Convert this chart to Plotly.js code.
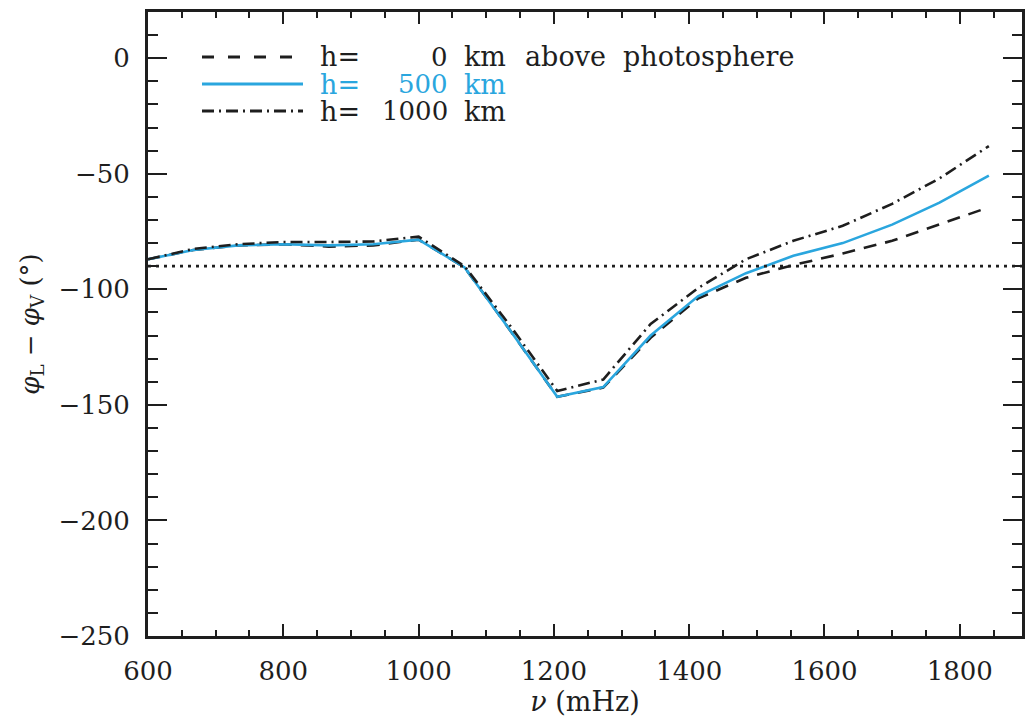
<!DOCTYPE html>
<html>
<head>
<meta charset="utf-8">
<script src="https://cdn.plot.ly/plotly-3.0.1.min.js"></script>
<style>html,body{margin:0;padding:0;background:#fff;}#chart{width:1036px;height:719px;}</style>
</head>
<body>
<div id="chart"></div>
<script>
// Frequencies (mHz)
var freq = [600, 667, 733, 800, 867, 933, 1000, 1068, 1136, 1205, 1273, 1343, 1413, 1484, 1554, 1627, 1700, 1770, 1843];
// phase difference phi_L - phi_V (deg) at three heights
var h0    = [-87, -83, -81, -80.5, -81.5, -81, -78.5, -90.5, -118, -146.5, -142.5, -121, -104, -95, -89.5, -84.5, -79, -72, -64.5];
var h500  = [-87, -83, -81, -80.5, -81, -80.5, -78.5, -90.5, -118, -146.5, -142.3, -120, -103, -93, -85.5, -80, -72, -62.5, -50.8];
var h1000 = [-87, -82.5, -80.5, -79.5, -79.5, -79.3, -77.2, -90, -116, -144, -139, -115, -99.5, -87, -79, -72.5, -63, -52, -38];
var refLevel = -90;
var legendNums = ['0', '500', '1000'];
var legendTail = [['km', 'above', 'photosphere'], ['km'], ['km']];

var BLACK = '#1e1e1e', BLUE = '#2aa6de';
var FONT = 'DejaVu Serif';
var W = 1036, H = 719, ML = 148, MR = 14, MT = 12, MB = 83;
var PW = W - ML - MR, PH = H - MT - MB;
function px(x){ return (x - ML) / PW; }
function py(y){ return (H - MB - y) / PH; }

var styles = [
  {data: h0, color: BLACK, dash: '13px,9px'},
  {data: h500, color: BLUE, dash: 'solid'},
  {data: h1000, color: BLACK, dash: '12px,5px,2px,5px'}
];

var traces = styles.map(function(s){
  return {x: freq, y: s.data, type: 'scatter', mode: 'lines',
          line: {color: s.color, width: 2.6, dash: s.dash}, showlegend: false, hoverinfo: 'skip'};
});

var shapes = [{type: 'line', xref: 'paper', yref: 'y', x0: 0, x1: 1, y0: refLevel, y1: refLevel,
               line: {color: BLACK, width: 2.8, dash: '3px,5px'}}];
var annotations = [];
var rowY = [57, 84, 111];
styles.forEach(function(s, i){
  shapes.push({type: 'line', xref: 'paper', yref: 'paper', x0: px(202), x1: px(303), y0: py(rowY[i]), y1: py(rowY[i]),
               line: {color: s.color, width: 2.8, dash: s.dash === 'solid' ? 'solid' : (i === 0 ? '12px,14px' : s.dash)}});
  var f = {family: FONT, size: 27, color: s.color};
  var nf = {family: FONT, size: 26, color: s.color};
  annotations.push({xref: 'paper', yref: 'paper', x: px(319), y: py(rowY[i]), xanchor: 'left', yanchor: 'middle', text: 'h=', showarrow: false, font: f, borderpad: 0});
  annotations.push({xref: 'paper', yref: 'paper', x: px(449), y: py(rowY[i]), xanchor: 'right', yanchor: 'middle', text: legendNums[i], showarrow: false, font: nf, borderpad: 0});
  var xs = [463, 524, 622];
  legendTail[i].forEach(function(w, j){
    annotations.push({xref: 'paper', yref: 'paper', x: px(xs[j]), y: py(rowY[i]), xanchor: 'left', yanchor: 'middle', text: w, showarrow: false, font: f, borderpad: 0});
  });
});

var layout = {
  width: W, height: H,
  margin: {l: ML, r: MR, t: MT, b: MB, pad: 0},
  paper_bgcolor: '#fff', plot_bgcolor: '#fff',
  font: {family: FONT, size: 26, color: BLACK},
  showlegend: false,
  xaxis: {
    range: [600, 1892], tickmode: 'linear', tick0: 600, dtick: 200,
    ticks: 'inside', ticklen: 12, tickwidth: 2, tickcolor: BLACK,
    minor: {dtick: 50, tick0: 600, ticks: 'inside', ticklen: 6, tickwidth: 2, tickcolor: BLACK},
    showline: true, linewidth: 3, linecolor: BLACK, mirror: 'ticks',
    showgrid: false, zeroline: false,
    tickfont: {family: FONT, size: 26, color: BLACK}, ticklabelstandoff: 10,
    title: {text: '<i>ν</i> (mHz)', font: {family: FONT, size: 27, color: BLACK}, standoff: 6}
  },
  yaxis: {
    range: [-250, 20], tickmode: 'linear', tick0: 0, dtick: 50,
    ticks: 'inside', ticklen: 19, tickwidth: 2, tickcolor: BLACK,
    minor: {dtick: 10, tick0: 0, ticks: 'inside', ticklen: 10, tickwidth: 2, tickcolor: BLACK},
    showline: true, linewidth: 3, linecolor: BLACK, mirror: 'ticks',
    showgrid: false, zeroline: false,
    tickfont: {family: FONT, size: 26, color: BLACK}, ticklabelstandoff: 10,
    title: {text: '<i>φ</i><sub>L</sub> − <i>φ</i><sub>V</sub> (°)', font: {family: FONT, size: 26, color: BLACK}, standoff: 12}
  },
  shapes: shapes,
  annotations: annotations
};

Plotly.newPlot('chart', traces, layout, {displayModeBar: false, staticPlot: true});
</script>
</body>
</html>
